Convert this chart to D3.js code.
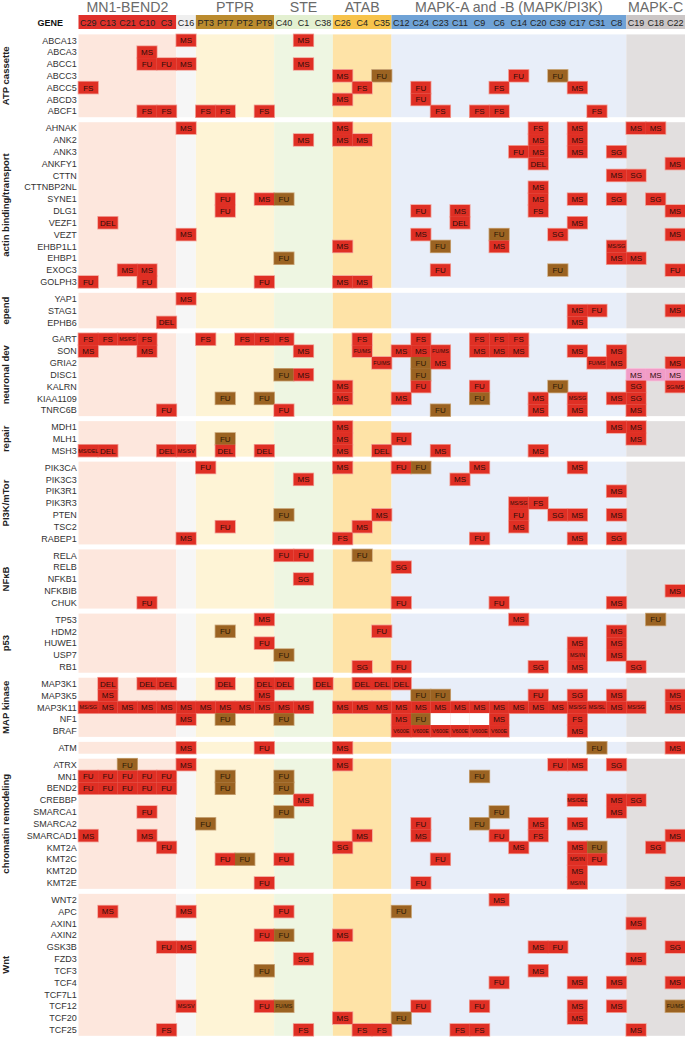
<!DOCTYPE html>
<html>
<head>
<meta charset="utf-8">
<script src="https://cdn.jsdelivr.net/npm/d3@7"></script>
<style>
body { margin: 0; background: #fff; }
svg { display: block; font-family: "Liberation Sans", Arial, sans-serif; }
</style>
</head>
<body>
<svg id="chart" width="685" height="1037"></svg>
<script>
// columns (tumour samples) and the clusters they belong to
var columns = ["C29","C13","C21","C10","C3","C16","PT3","PT7","PT2","PT9","C40","C1","C38",
               "C26","C4","C35","C12","C24","C23","C11","C9","C6","C14","C20","C39","C17","C31","C8",
               "C19","C18","C22"];
var clusterNames = ["MN1-BEND2", "", "PTPR", "STE", "ATAB", "MAPK-A and -B (MAPK/PI3K)", "MAPK-C"];
var clusterSizes = [5, 1, 4, 3, 3, 12, 3];

// pathways and their genes (rows)
var pathways = ["ATP cassette", "actin binding/transport", "epend", "neuronal dev", "repair",
                "PI3K/mTor", "NFκB", "p53", "MAP kinase", "", "chromatin remodeling", "Wnt"];
var pathwayGenes = [
  ["ABCA13","ABCA3","ABCC1","ABCC3","ABCC5","ABCD3","ABCF1"],
  ["AHNAK","ANK2","ANK3","ANKFY1","CTTN","CTTNBP2NL","SYNE1","DLG1","VEZF1","VEZT","EHBP1L1","EHBP1","EXOC3","GOLPH3"],
  ["YAP1","STAG1","EPHB6"],
  ["GART","SON","GRIA2","DISC1","KALRN","KIAA1109","TNRC6B"],
  ["MDH1","MLH1","MSH3"],
  ["PIK3CA","PIK3C3","PIK3R1","PIK3R3","PTEN","TSC2","RABEP1"],
  ["RELA","RELB","NFKB1","NFKBIB","CHUK"],
  ["TP53","HDM2","HUWE1","USP7","RB1"],
  ["MAP3K1","MAP3K5","MAP3K11","NF1","BRAF"],
  ["ATM"],
  ["ATRX","MN1","BEND2","CREBBP","SMARCA1","SMARCA2","SMARCAD1","KMT2A","KMT2C","KMT2D","KMT2E"],
  ["WNT2","APC","AXIN1","AXIN2","GSK3B","FZD3","TCF3","TCF4","TCF7L1","TCF12","TCF20","TCF25"]
];

// alterations per gene: "column:label[:kind]"  kind b = brown, p = pink, w = blank
var calls = [
  ["ABCA13", "C16:MS C1:MS"],
  ["ABCA3", "C10:MS"],
  ["ABCC1", "C10:FU C3:FU C16:MS C1:MS"],
  ["ABCC3", "C26:MS C35:FU:b C14:FU C39:FU:b"],
  ["ABCC5", "C29:FS C4:FS C24:FU C6:FS C17:MS"],
  ["ABCD3", "C26:MS C24:FU"],
  ["ABCF1", "C10:FS C3:FS PT3:FS PT7:FS PT9:FS C23:FS C9:FS C6:FS C31:FS"],
  ["AHNAK", "C16:MS C26:MS C20:FS C17:MS C19:MS C18:MS"],
  ["ANK2", "C1:MS C26:MS C4:MS C20:MS C17:MS"],
  ["ANK3", "C14:FU C20:MS C17:MS C8:SG"],
  ["ANKFY1", "C20:DEL C22:MS"],
  ["CTTN", "C8:MS C19:SG"],
  ["CTTNBP2NL", "C20:MS"],
  ["SYNE1", "PT7:FU PT9:MS C40:FU:b C20:MS C17:MS C8:SG C18:SG"],
  ["DLG1", "PT7:FU C24:FU C11:MS C20:FS C22:MS"],
  ["VEZF1", "C13:DEL C11:DEL C17:MS"],
  ["VEZT", "C16:MS C24:MS C6:FU:b C39:SG C22:MS"],
  ["EHBP1L1", "C26:MS C23:FU:b C6:MS C8:MS/SG"],
  ["EHBP1", "C40:FU:b C8:MS C19:MS"],
  ["EXOC3", "C21:MS C10:MS C23:FU C39:FU:b C22:FU"],
  ["GOLPH3", "C29:FU C10:FU PT9:FU C26:MS C4:MS"],
  ["YAP1", "C16:MS"],
  ["STAG1", "C17:MS C31:FU C22:MS"],
  ["EPHB6", "C3:DEL C17:MS"],
  ["GART", "C29:FS C13:FS C21:MS/FS C10:FS PT3:FS PT2:FS PT9:FS C40:FS C4:FS C24:FS C9:FS C6:FS C14:FS"],
  ["SON", "C29:MS C10:MS C1:MS C4:FU/MS C12:MS C24:MS C23:FU/MS C9:MS C6:MS C14:MS C17:MS C8:MS"],
  ["GRIA2", "C35:FU/MS C24:FU:b C23:MS C31:FU/MS C8:MS C22:MS"],
  ["DISC1", "C40:FU:b C1:MS C24:FU:b C19:MS:p C18:MS:p C22:MS:p"],
  ["KALRN", "C26:MS C24:FU C9:FU C39:FU:b C19:SG C22:SG/MS"],
  ["KIAA1109", "PT7:FU:b PT9:FU:b C26:MS C12:MS C9:FU:b C20:MS C17:MS/SG C8:MS C19:SG"],
  ["TNRC6B", "C3:FU C40:FU C23:FU:b C20:MS C17:MS C19:MS"],
  ["MDH1", "C26:MS C8:MS C19:MS"],
  ["MLH1", "PT7:FU:b C26:MS C12:FU C19:MS"],
  ["MSH3", "C29:MS/DEL C13:DEL C3:DEL C16:MS/SV PT7:DEL PT9:DEL C26:MS C35:DEL C23:MS C20:MS"],
  ["PIK3CA", "PT3:FU C26:MS C12:FU C24:FU:b C9:MS C17:MS"],
  ["PIK3C3", "C1:MS C11:MS"],
  ["PIK3R1", "C8:MS"],
  ["PIK3R3", "C14:MS/SG C20:FS"],
  ["PTEN", "C40:FU:b C35:MS C14:FU C39:SG C17:MS C8:MS"],
  ["TSC2", "PT7:FU C4:MS C14:MS"],
  ["RABEP1", "C16:MS C26:FS C9:FU C17:MS C8:SG"],
  ["RELA", "C40:FU C1:FU C4:FU:b"],
  ["RELB", "C12:SG"],
  ["NFKB1", "C1:SG"],
  ["NFKBIB", "C22:MS"],
  ["CHUK", "C10:FU C12:FU C6:FU C8:MS"],
  ["TP53", "PT9:MS C14:MS C18:FU:b"],
  ["HDM2", "PT7:FU:b C35:FU C8:MS"],
  ["HUWE1", "PT9:FU C17:MS C8:MS"],
  ["USP7", "C40:FU:b C17:MS/IN C8:MS"],
  ["RB1", "C4:SG C12:FU C20:SG C17:MS C19:SG"],
  ["MAP3K1", "C13:DEL C10:DEL C3:DEL PT7:DEL PT9:DEL C40:DEL C38:DEL C4:DEL C35:DEL C12:DEL"],
  ["MAP3K5", "C13:MS PT9:MS C24:FU:b C23:FU:b C20:FU C17:SG C8:MS C22:MS"],
  ["MAP3K11", "C29:MS/SG C13:MS C21:MS C10:MS C3:MS C16:MS PT3:MS PT7:MS PT2:MS PT9:MS C40:MS C1:MS " +
              "C26:MS C4:MS C35:MS C12:MS C24:MS C23:MS C11:MS C9:MS C6:MS C14:MS C20:MS C39:MS " +
              "C17:MS/SG C31:MS/SL C8:MS C19:MS/SG C22:MS"],
  ["NF1", "C16:MS PT7:FU:b C40:FU:b C12:MS C24:FU:b C23::w C11::w C9::w C6:MS C17:FS"],
  ["BRAF", "C12:V600E C24:V600E C23:V600E C11:V600E C9:V600E C6:V600E C17:MS"],
  ["ATM", "C16:MS PT9:FU C26:MS C31:FU:b C22:MS"],
  ["ATRX", "C21:FU:b C16:MS C26:MS C39:FU C17:MS C8:SG"],
  ["MN1", "C29:FU C13:FU C21:FU C10:FU C3:FU PT7:FU:b C40:FU:b C9:FU:b"],
  ["BEND2", "C29:FU C13:FU C21:FU C10:FU C3:FU PT7:FU:b C40:FU:b"],
  ["CREBBP", "C1:MS C17:MS/DEL C8:MS C19:SG"],
  ["SMARCA1", "C10:FU C40:FU:b C6:FU:b C8:MS"],
  ["SMARCA2", "PT3:FU:b C24:FU C9:FU:b C20:MS C17:MS"],
  ["SMARCAD1", "C29:MS C10:MS C4:MS C24:MS C6:FU C20:FS C22:MS"],
  ["KMT2A", "C3:FU C26:SG C14:MS C17:MS C31:FU:b C18:SG"],
  ["KMT2C", "PT7:FU PT2:FU:b C40:FU C23:FU C17:MS/IN C31:FU"],
  ["KMT2D", "C17:MS"],
  ["KMT2E", "PT9:FU C24:FU C17:MS/IN C22:SG"],
  ["WNT2", "C6:MS"],
  ["APC", "C13:MS C16:MS C40:FU C12:FU:b"],
  ["AXIN1", "C19:MS"],
  ["AXIN2", "PT9:FU C40:FU:b C26:MS"],
  ["GSK3B", "C3:FU C16:MS C20:MS C39:FU C22:SG"],
  ["FZD3", "C1:SG C19:MS"],
  ["TCF3", "PT9:FU:b C20:MS"],
  ["TCF4", "C6:FU C17:MS C8:MS C22:MS"],
  ["TCF7L1", ""],
  ["TCF12", "C16:MS/SV PT9:FU C40:FU/MS:b C24:FU C9:FU C17:MS C8:MS C22:FU/MS:b"],
  ["TCF20", "C26:MS C12:FU:b C17:MS"],
  ["TCF25", "C3:FS C1:FS C4:FS C35:FS C11:FS C9:FS C19:MS"]
];

// ---- styles ----
var headFill = ["#e0302a", "#efefef", "#bb8b2e", "#e3f0d1", "#f7c34b", "#6fa2d6", "#cbc6c6"];
var bodyFill = ["#fde7dd", "#f6f6f6", "#fef4d6", "#eef6e2", "#fee3a7", "#e8eef9", "#e2dfdf"];
var cellFill = { r: "#df2f24", b: "#9b6322", p: "#f19cc7", w: "#ffffff" };
var haloFill = { r: "#f29e95", b: "#caa679", p: "#f7c8de", w: "#f29e95" };

var chartW = 685,
    gridLeft = 78.5, gridTop = 34.4, rowH = 11.83, gap = 5;

var svg = d3.select("#chart");

var x = d3.scaleBand().domain(columns).range([gridLeft, chartW]).padding(0);

// row index -> y, with a gap after every pathway
var rows = [];
pathwayGenes.forEach(function(genes, g) {
  genes.forEach(function(gene) { rows.push({ gene: gene, g: g, i: rows.length }); });
});
var rowByGene = new Map(rows.map(function(r) { return [r.gene, r]; }));
var yIdx = d3.scaleLinear().domain([0, rows.length]).range([gridTop, gridTop + rows.length * rowH]);
function yOf(gene) { var r = rowByGene.get(gene); return yIdx(r.i) + r.g * gap; }

// cluster column ranges
var clusters = [], c0 = 0;
clusterSizes.forEach(function(n, k) {
  clusters.push({ name: clusterNames[k], first: columns[c0], last: columns[c0 + n - 1], k: k });
  c0 += n;
});
function cx0(c) { return x(c.first); }
function cx1(c) { return x(c.last) + x.bandwidth(); }

// body backgrounds
var bg = svg.append("g");
pathwayGenes.forEach(function(genes, g) {
  var y0 = yOf(genes[0]);
  bg.selectAll(null)
    .data(clusters)
    .enter().append("rect")
      .attr("x", cx0)
      .attr("y", y0)
      .attr("width", function(c) { return cx1(c) - cx0(c); })
      .attr("height", genes.length * rowH)
      .attr("fill", function(c) { return bodyFill[c.k]; });
});

// header band and cluster titles
var head = svg.append("g");
head.selectAll("rect")
  .data(clusters)
  .enter().append("rect")
    .attr("x", cx0)
    .attr("y", 15)
    .attr("width", function(c) { return cx1(c) - cx0(c); })
    .attr("height", 14)
    .attr("fill", function(c) { return headFill[c.k]; });

head.selectAll(".title")
  .data(clusters)
  .enter().append("text")
    .attr("class", "title")
    .attr("x", function(c) { return (cx0(c) + cx1(c)) / 2; })
    .attr("y", 11.5)
    .attr("text-anchor", "middle")
    .attr("font-size", 14.2)
    .attr("fill", "#6a6a6a")
    .text(function(c) { return c.name; });

head.selectAll(".col")
  .data(columns)
  .enter().append("text")
    .attr("class", "col")
    .attr("x", function(d) { return x(d) + x.bandwidth() / 2; })
    .attr("y", 25.6)
    .attr("text-anchor", "middle")
    .attr("font-size", 9)
    .attr("fill", "#222")
    .text(function(d) { return d; });

head.append("text")
  .attr("x", 63)
  .attr("y", 25.6)
  .attr("text-anchor", "end")
  .attr("font-size", 9)
  .attr("font-weight", "bold")
  .attr("fill", "#111")
  .text("GENE");

// gene labels
svg.append("g").selectAll("text")
  .data(rows)
  .enter().append("text")
    .attr("x", 76.8)
    .attr("y", function(r) { return yOf(r.gene) + rowH / 2 + 3.2; })
    .attr("text-anchor", "end")
    .attr("font-size", 9)
    .attr("fill", "#333")
    .text(function(r) { return r.gene; });

// pathway labels
svg.append("g").selectAll("text")
  .data(pathways.map(function(p, g) { return { name: p, genes: pathwayGenes[g] }; }))
  .enter().append("text")
    .attr("transform", function(d) {
      var yc = yOf(d.genes[0]) + d.genes.length * rowH / 2;
      return "translate(9," + yc + ") rotate(-90)";
    })
    .attr("text-anchor", "middle")
    .attr("font-size", 9.5)
    .attr("font-weight", "bold")
    .attr("fill", "#222")
    .text(function(d) { return d.name; });

// cells
var cells = [];
calls.forEach(function(row) {
  row[1].split(" ").filter(Boolean).forEach(function(tok) {
    var p = tok.split(":");
    cells.push({ gene: row[0], col: p[0], label: p[1], kind: p[2] || "r" });
  });
});

var cg = svg.append("g");
cg.selectAll(".halo")
  .data(cells)
  .enter().append("rect")
    .attr("class", "halo")
    .attr("x", function(d) { return x(d.col) - 0.8; })
    .attr("y", function(d) { return yOf(d.gene) - 0.8; })
    .attr("width", x.bandwidth() + 1.6)
    .attr("height", rowH + 1.6)
    .attr("fill", function(d) { return haloFill[d.kind]; });

cg.selectAll(".cell")
  .data(cells)
  .enter().append("rect")
    .attr("class", "cell")
    .attr("x", function(d) { return x(d.col); })
    .attr("y", function(d) { return yOf(d.gene); })
    .attr("width", x.bandwidth())
    .attr("height", rowH)
    .attr("fill", function(d) { return cellFill[d.kind]; });

cg.selectAll(".lbl")
  .data(cells.filter(function(d) { return d.label; }))
  .enter().append("text")
    .attr("class", "lbl")
    .attr("x", function(d) { return x(d.col) + x.bandwidth() / 2; })
    .attr("y", function(d) { return yOf(d.gene) + rowH / 2 + (d.label.length > 3 ? 2 : 2.9); })
    .attr("text-anchor", "middle")
    .attr("font-size", function(d) { return d.label.length > 3 ? 5.4 : 8; })
    .attr("fill", function(d) { return d.kind === "b" ? "#2b1805" : "#2e0c08"; })
    .text(function(d) { return d.label; });
</script>
</body>
</html>
